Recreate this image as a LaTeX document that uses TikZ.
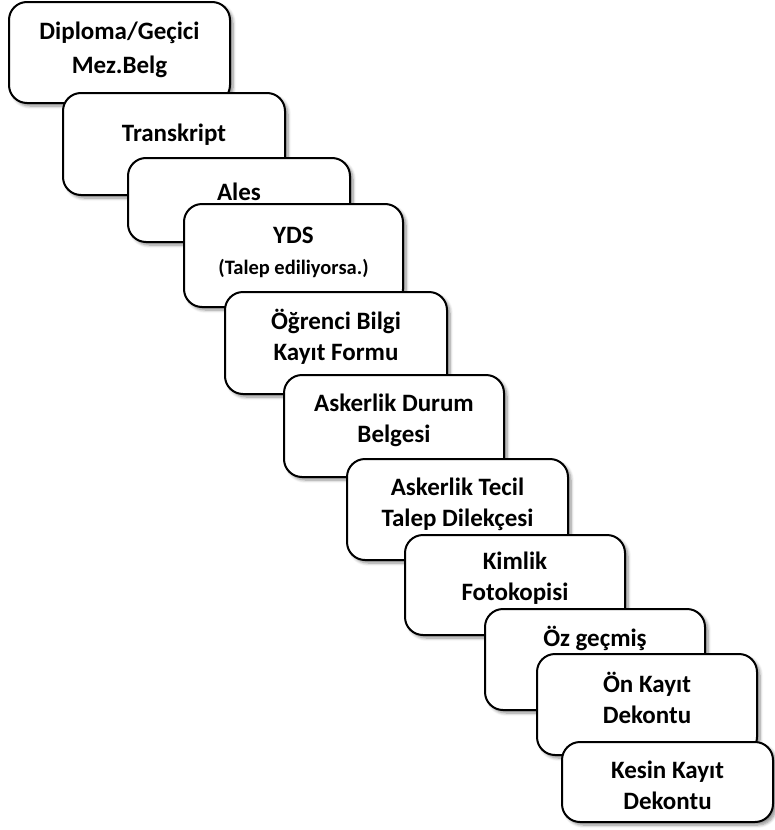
\documentclass[tikz,border=0pt]{standalone}
\usepackage{fontspec}
\setmainfont{Carlito}
\usetikzlibrary{shadows.blur}
\begin{document}
\begin{tikzpicture}[x=1pt,y=-1pt,
  card/.style={draw=black, line width=2pt, rounded corners=18pt, fill=white, inner sep=0pt,
    blur shadow={shadow xshift=3pt, shadow yshift=-3pt, shadow blur steps=6, shadow blur radius=3pt, shadow opacity=45}},
  lbl/.style={font=\bfseries\fontsize{25}{31}\selectfont, align=center, inner sep=0pt},
  small/.style={font=\bfseries\fontsize{20.5}{24}\selectfont, align=center, inner sep=0pt}]
\useasboundingbox (0,0) rectangle (775,830);
\node[card, minimum width=221pt, minimum height=101pt] (b1) at (119.5,52.5) {};
\node[lbl, font=\bfseries\fontsize{25}{34}\selectfont] (t1) at (119.5,50) {Diploma/Geçici\\Mez.Belg};
\node[card, minimum width=222pt, minimum height=102pt] (b2) at (174,144) {};
\node[lbl] (t2) at (174,135) {Transkript};
\node[card, minimum width=222pt, minimum height=84pt] (b3) at (239,200) {};
\node[lbl] (t3) at (239,192) {Ales};
\node[card, minimum width=219pt, minimum height=103pt] (b4) at (293.5,255.5) {};
\node[lbl] (t4) at (293.5,235) {YDS};
\node[small] (t4b) at (293.5,268) {(Talep ediliyorsa.)};
\node[card, minimum width=222pt, minimum height=102pt] (b5) at (336,343) {};
\node[lbl] (t5) at (336,337) {Öğrenci Bilgi\\Kayıt Formu};
\node[card, minimum width=220pt, minimum height=102pt] (b6) at (394,426) {};
\node[lbl] (t6) at (394,420) {Askerlik Durum\\Belgesi};
\node[card, minimum width=221pt, minimum height=101pt] (b7) at (457.5,509.5) {};
\node[lbl] (t7) at (457.5,504) {Askerlik Tecil\\Talep Dilekçesi};
\node[card, minimum width=220pt, minimum height=100pt] (b8) at (515,585) {};
\node[lbl] (t8) at (515,578) {Kimlik\\Fotokopisi};
\node[card, minimum width=220pt, minimum height=101pt] (b9) at (595,659.5) {};
\node[lbl] (t9) at (595,638) {Öz geçmiş};
\node[card, minimum width=220pt, minimum height=101pt] (b10) at (647,704.5) {};
\node[lbl] (t10) at (647,698) {Ön Kayıt\\Dekontu};
\node[card, minimum width=211pt, minimum height=80pt] (b11) at (667.5,782) {};
\node[lbl] (t11) at (667.5,785) {Kesin Kayıt\\Dekontu};
\end{tikzpicture}
\end{document}
